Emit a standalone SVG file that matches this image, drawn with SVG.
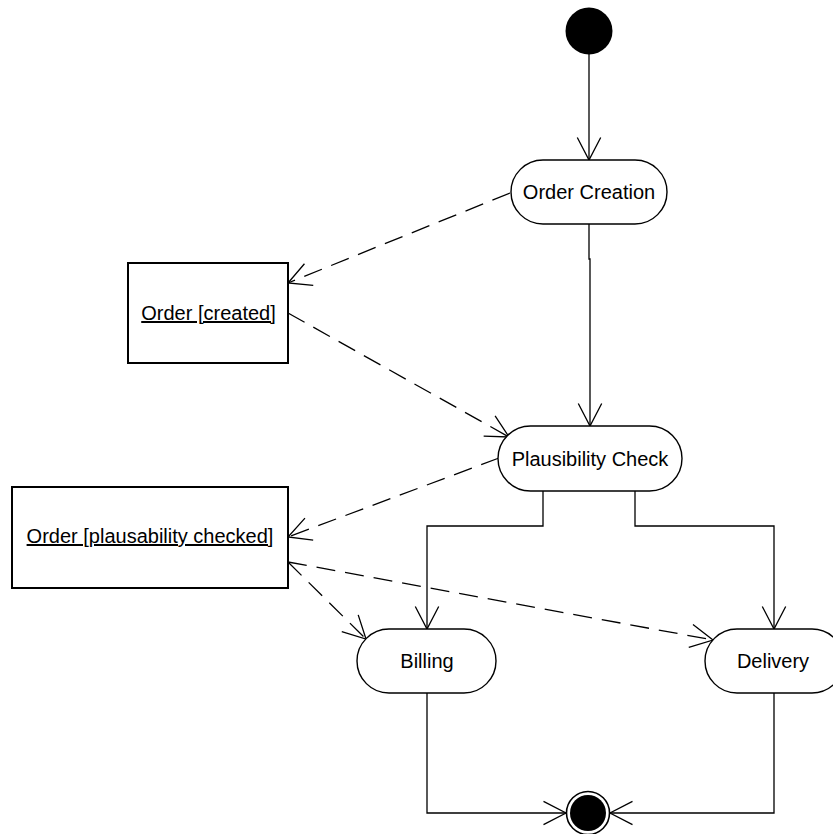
<svg xmlns="http://www.w3.org/2000/svg" width="833" height="834" viewBox="0 0 833 834">
  <style>
    .action { fill: #fff; stroke: #000; stroke-width: 1.4; }
    .object { fill: #fff; stroke: #000; stroke-width: 2; }
    .label { font-family: "Liberation Sans", Arial, sans-serif; font-size: 20px; fill: #000; text-anchor: middle; }
    .flow { fill: none; stroke: #000; stroke-width: 1.3; marker-end: url(#open); }
    .dep { fill: none; stroke: #000; stroke-width: 1.3; stroke-dasharray: 19 10; marker-end: url(#open); }
  </style>
  <defs>
    <marker id="open" viewBox="-26 -14 28 28" markerWidth="28" markerHeight="28" refX="0" refY="0" orient="auto" markerUnits="userSpaceOnUse" overflow="visible">
      <path d="M-22.5,-11.7 L0,0 L-22.5,11.7" fill="none" stroke="#000" stroke-width="1.3" stroke-dasharray="none"/>
    </marker>
  </defs>
  <rect width="833" height="834" fill="#fff"/>

  <g id="connectors">
    <path class="flow" d="M589,54 V160"/>
    <path class="flow" d="M589,224 V259 H590 V426"/>
    <path class="dep" d="M510,193 L288,283"/>
    <path class="dep" d="M288,313 L509,437"/>
    <path class="dep" d="M499,458 L288,537"/>
    <path class="flow" d="M543,491 V526 H427 V629"/>
    <path class="flow" d="M635,491 V526 H774 V629"/>
    <path class="dep" d="M288,562 L366,639"/>
    <path class="dep" d="M288,562 L713,640"/>
    <path class="flow" d="M427,693 V813 H566"/>
    <path class="flow" d="M774,693 V813 H610"/>
  </g>

  <g id="initial">
    <circle cx="589" cy="31" r="23.5" fill="#000"/>
  </g>

  <g id="order-creation">
    <rect class="action" x="511" y="160" width="156" height="64" rx="32" ry="32"/>
    <text class="label" x="589" y="199">Order Creation</text>
  </g>

  <g id="order-created">
    <rect class="object" x="128" y="263" width="160" height="100"/>
    <text class="label" x="208.5" y="320" text-decoration="underline">Order [created]</text>
  </g>

  <g id="plausibility-check">
    <rect class="action" x="498" y="426" width="184" height="65" rx="32.5" ry="32.5"/>
    <text class="label" x="590" y="466">Plausibility Check</text>
  </g>

  <g id="order-checked">
    <rect class="object" x="12" y="487" width="276" height="101"/>
    <text class="label" x="150" y="543" text-decoration="underline">Order [plausability checked]</text>
  </g>

  <g id="billing">
    <rect class="action" x="357" y="629" width="139" height="64" rx="32" ry="32"/>
    <text class="label" x="427" y="668">Billing</text>
  </g>

  <g id="delivery">
    <rect class="action" x="705" y="629" width="139" height="64" rx="32" ry="32"/>
    <text class="label" x="773" y="668">Delivery</text>
  </g>

  <g id="final">
    <circle cx="588" cy="813" r="21.5" fill="#fff" stroke="#000" stroke-width="1.6"/>
    <circle cx="588" cy="813" r="18" fill="#000"/>
  </g>
</svg>
